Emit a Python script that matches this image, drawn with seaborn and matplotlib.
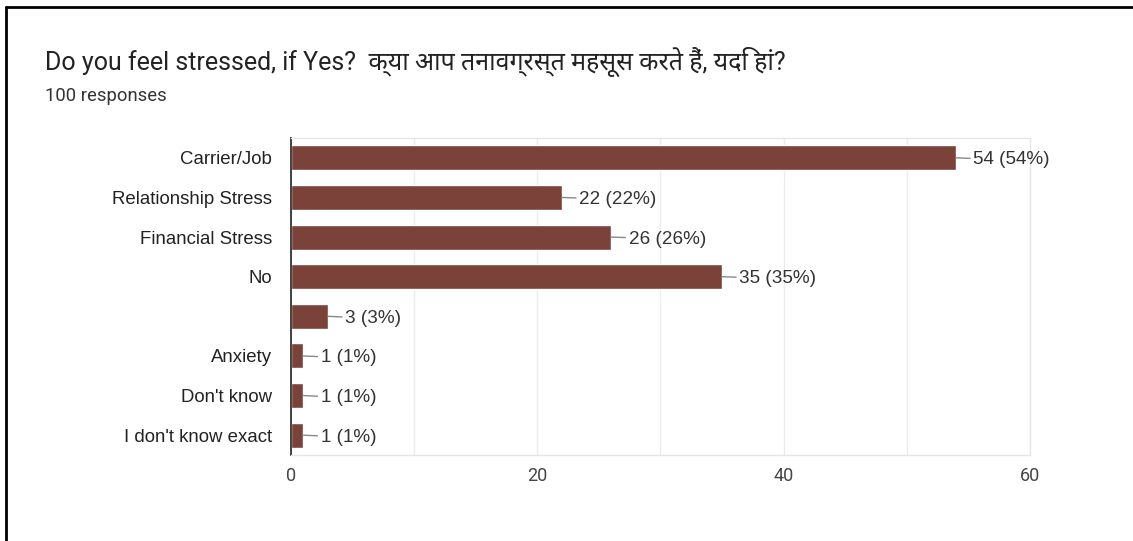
import matplotlib
matplotlib.use("Agg")
import matplotlib.pyplot as plt
import seaborn as sns
import pandas as pd
from matplotlib.lines import Line2D

categories = ["Carrier/Job", "Relationship Stress", "Financial Stress", "No", "",
              "Anxiety", "Don't know", "I don't know exact"]
counts = [54, 22, 26, 35, 3, 1, 1, 1]
percents = [54, 22, 26, 35, 3, 1, 1, 1]
x_ticks = [0, 20, 40, 60]
title = "Do you feel stressed, if Yes?  क्या आप तनावग्रस्त महसूस करते हैं, यदि हां?"
subtitle = "100 responses"

sns.set_theme(style="white")
plt.rcParams['font.family'] = ['Liberation Sans', 'DejaVu Sans']

df = pd.DataFrame({"category": categories, "count": counts})

fig = plt.figure(figsize=(11.33, 5.41), dpi=100)
ax = fig.add_axes([0.2568, 0.159, 0.9091 - 0.2568, 0.7449 - 0.159])

sns.barplot(data=df, x="count", y="category", order=categories, color="#7B423A",
            saturation=1, width=0.63, ax=ax, orient="h")

ax.set_xlim(0, 60)
ax.set_ylim(len(categories) - 0.5, -0.5)
ax.set_xticks(x_ticks)
ax.set_xticks(range(0, 61, 10), minor=True)
ax.grid(True, axis="x", which="both", color="#ebebeb", linewidth=1)
ax.set_axisbelow(True)
ax.set_xlabel("")
ax.set_ylabel("")
ax.tick_params(axis="x", which="both", length=0, pad=9, labelsize=13, labelcolor="#444444")
ax.tick_params(axis="y", length=0, pad=13.5, labelsize=13.4, labelcolor="#222222")
for lbl in ax.get_xticklabels():
    lbl.set_fontfamily(['Roboto', 'DejaVu Sans'])

for side in ["top", "right", "bottom"]:
    ax.spines[side].set_color("#e6e6e6")
    ax.spines[side].set_linewidth(1)
ax.spines["left"].set_color("#333333")
ax.spines["left"].set_linewidth(1.3)

for i, (c, p) in enumerate(zip(counts, percents)):
    ax.annotate(f"{c} ({p}%)", xy=(c, i), xytext=(12.5, 0), textcoords="offset points",
                ha="left", va="center_baseline", fontsize=13.6, color="#333333",
                arrowprops=dict(arrowstyle="-", color="#888888", lw=1,
                                shrinkA=0, shrinkB=0))

fig.text(45 / 1133, 1 - 62 / 541, title, fontsize=18, color="#222222",
         va="center", ha="left", family=['Roboto', 'Noto Sans', 'DejaVu Sans'])
fig.text(45 / 1133, 1 - 96 / 541, subtitle, fontsize=13.3, color="#333333",
         va="center", ha="left", family=['Roboto', 'DejaVu Sans'])

# outer frame lines (top and left)
fig.add_artist(Line2D([6 / 1133, 1], [1 - 7 / 541, 1 - 7 / 541], color="black", lw=2.0,
                      transform=fig.transFigure))
fig.add_artist(Line2D([6 / 1133, 6 / 1133], [0, 1 - 7 / 541], color="black", lw=2.0,
                      transform=fig.transFigure))

fig.savefig("out.png", dpi=100, facecolor="white")
